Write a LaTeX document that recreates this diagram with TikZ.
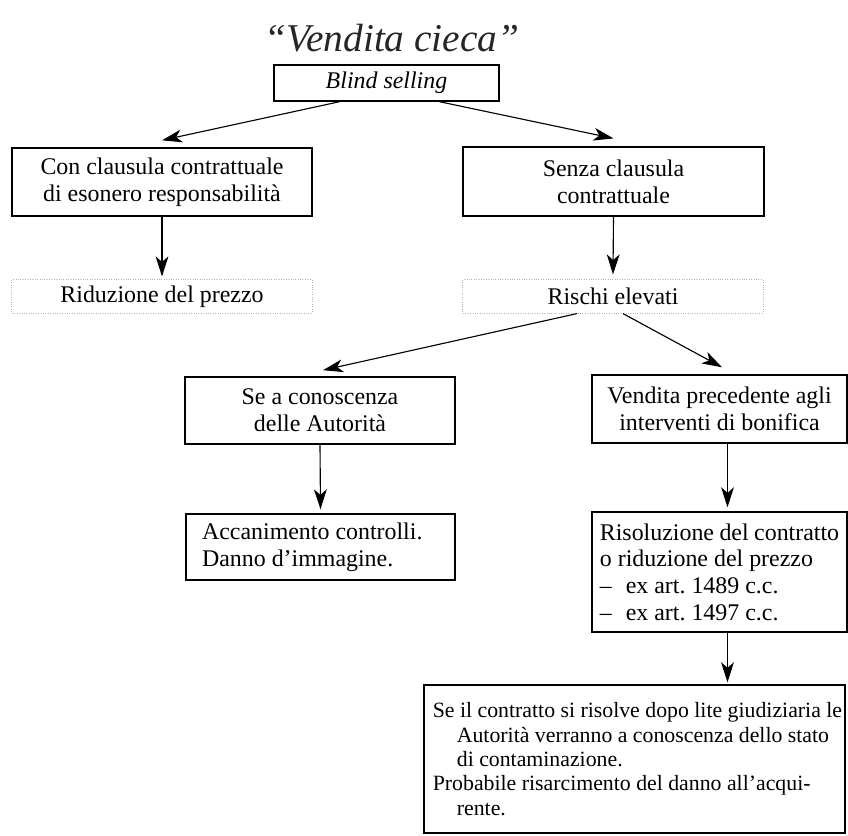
\documentclass[tikz,border=0pt]{standalone}
\usepackage{fontspec}
\setmainfont{Liberation Serif}
\usetikzlibrary{arrows.meta,calc}

\tikzset{
  box/.style={draw,line width=1pt,inner sep=0pt,align=center},
  debole/.style={draw=gray!60,densely dotted,line width=.7pt,inner sep=0pt,align=center},
  testo/.style={draw,line width=1pt,inner ysep=0pt,align=flush left},
  freccia/.style={-{Stealth[length=5mm,width=3.2mm,inset=1.4mm]},line width=.8pt},
}

\begin{document}
\begin{tikzpicture}[x=.025cm,y=.025cm,font=\fontsize{17}{19}\selectfont]
\useasboundingbox (0,0) rectangle (848,-835);

% titolo a mano
\node[text=black!85] (titolo) at (392,-38) {\fontsize{28}{30}\selectfont\itshape ``Vendita cieca''};

\node[box,minimum width=5.62cm,minimum height=.9cm] (bs) at (386.5,-83) {\itshape Blind selling};

% primo livello
\node[box,minimum width=7.5cm,minimum height=1.7cm] (con) at (162,-182) {Con clausula contrattuale\\di esonero responsabilità};
\node[box,minimum width=7.52cm,minimum height=1.72cm] (senza) at (613.5,-181.5) {Senza clausula\\contrattuale};

\node[debole,minimum width=7.5cm,minimum height=.83cm] (rid) at (162,-296.5) {Riduzione del prezzo};
\node[debole,minimum width=7.5cm,minimum height=.83cm] (rischi) at (613,-296.5) {Rischi elevati};

% rischi
\node[box,minimum width=6.75cm,minimum height=1.68cm] (aut) at (320,-410.5) {Se a conoscenza\\delle Autorità};
\node[box,minimum width=6.38cm,minimum height=1.7cm] (bon) at (719.5,-409) {Vendita precedente agli\\interventi di bonifica};

\node[testo,inner xsep=.4cm,text width=5.92cm,minimum height=1.65cm] (acc) at (320.5,-547) {Accanimento controlli.\\Danno d’immagine.};
\node[testo,inner xsep=.2cm,text width=5.98cm,minimum height=3cm] (ris) at (719.5,-572)
  {Risoluzione del contratto\\o riduzione del prezzo\\--\hspace{.35cm}ex art.~1489 c.c.\\--\hspace{.35cm}ex art.~1497 c.c.};

\node[testo,inner xsep=.22cm,text width=10.08cm,minimum height=3.7cm,font=\fontsize{15.5}{17.3}\selectfont] (lite) at (634.5,-759)
  {\mbox{Se il contratto si risolve dopo lite giudiziaria le}\\
   \hspace*{.6cm}\mbox{Autorità verranno a conoscenza dello stato}\\
   \hspace*{.6cm}di contaminazione.\\
   \mbox{Probabile risarcimento del danno all’acqui-}\\
   \hspace*{.6cm}rente.};

% frecce
\draw[freccia] ($(bs.south)+(-47,0)$) -- ($(con.north)+(0,7)$);
\draw[freccia] ($(bs.south)+(53,0)$) -- ($(senza.north)+(0,8)$);
\draw[freccia] (con.south) -- ($(rid.north)+(0,3)$);
\draw[freccia] (senza.south) -- ($(rischi.north)+(0,5)$);
\draw[freccia] ($(rischi.south)+(-36,0)$) -- ($(aut.north)+(3,6)$);
\draw[freccia] ($(rischi.south)+(10,0)$) -- ($(bon.north)+(2.5,7)$);
\draw[freccia] (aut.south) -- ($(acc.north)+(0,4)$);
\draw[freccia] ($(bon.south)+(8,0)$) -- ($(ris.north)+(8,4)$);
\draw[freccia] ($(ris.south)+(8,0)$) -- ($(lite.north)+(93,2)$);

\end{tikzpicture}
\end{document}
